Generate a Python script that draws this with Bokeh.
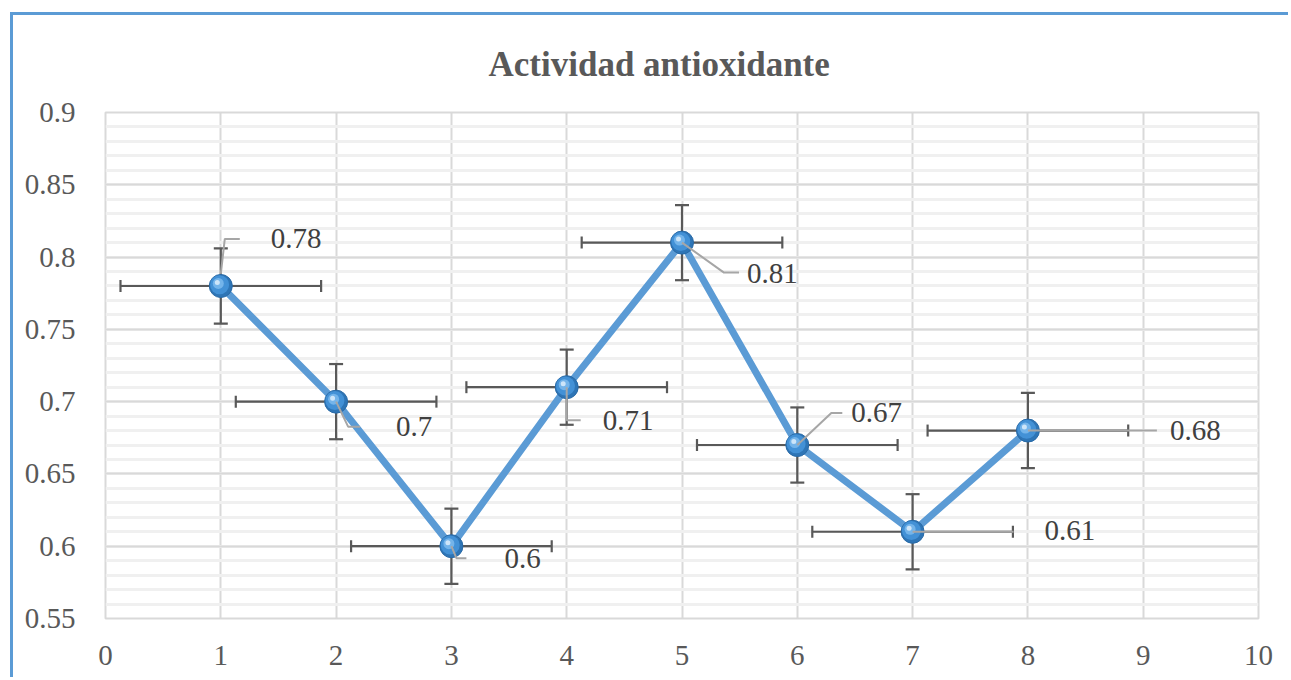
from bokeh.plotting import figure
from bokeh.models import FixedTicker
from bokeh.core.properties import value
from bokeh.embed import file_html
from bokeh.resources import INLINE
import numpy as np

# ---- data ----
x_vals = [1, 2, 3, 4, 5, 6, 7, 8]
y_vals = [0.78, 0.70, 0.60, 0.71, 0.81, 0.67, 0.61, 0.68]
y_err = [0.026, 0.026, 0.026, 0.026, 0.026, 0.026, 0.026, 0.026]
x_err = [0.87, 0.87, 0.87, 0.87, 0.87, 0.87, 0.87, 0.87]
point_labels = ["0.78", "0.7", "0.6", "0.71", "0.81", "0.67", "0.61", "0.68"]
x_ticks = [0, 1, 2, 3, 4, 5, 6, 7, 8, 9, 10]
y_ticks = [0.55, 0.6, 0.65, 0.7, 0.75, 0.8, 0.85, 0.9]
y_tick_labels = ["0.55", "0.6", "0.65", "0.7", "0.75", "0.8", "0.85", "0.9"]
title_text = "Actividad antioxidante"

# label placement (screen px, relative to point; dy positive = down)
lab_dx = [50, 60, 53, 36, 65, 54, 132, 142]
lab_dy = [-47, 25, 12, 33, 31, -33, -1, 0]
# leader elbow (screen px) and leader end (screen px)
elb_dx = [4, 12, 5, 0, 42, 34, 101, 129]
elb_dy = [-47, 25, 12, 33, 30, -32, 0, 0]
end_dx = [19, 24, 15, 14, 57, 45, 101, 129]
start_dy = [-12, 0, 0, 0, 0, 0, 0, 0]

# ---- layout (window coordinates) ----
FL, FR, FT, FB = 105, 1258, 112, 618
W, H = 1291, 680
BX, BY, BW = 10, 12, 3          # outer blue border position / width
OX, OY = BX + BW, BY + BW       # canvas origin in window
X0, X1, Y0, Y1 = 0, 10, 0.55, 0.9
sx = (FR - FL) / (X1 - X0)
sy = (FB - FT) / (Y1 - Y0)

p = figure(width=W - OX, height=H - OY, x_range=(X0, X1), y_range=(Y0, Y1),
           output_backend="svg", toolbar_location=None,
           min_border_left=FL - OX, min_border_right=W - FR,
           min_border_top=FT - OY, min_border_bottom=H - FB)
p.margin = (BY, 0, 0, BX)
p.styles = {"border-top": f"{BW}px solid #5b9bd5",
            "border-left": f"{BW}px solid #5b9bd5"}
p.background_fill_color = "white"
p.border_fill_color = "white"
p.outline_line_color = "#d9d9d9"
p.outline_line_width = 2

p.title.text = title_text
p.title.align = "left"
p.title.vertical_align = "top"
p.title.text_font = "Liberation Serif"
p.title.text_font_style = "bold"
p.title.text_font_size = "35px"
p.title.text_color = "#595959"
p.title.offset = 383
p.title.standoff = 54

p.xaxis.ticker = FixedTicker(ticks=x_ticks)
minor_y = [round(v, 2) for v in np.arange(0.55, 0.9001, 0.01)]
p.yaxis.ticker = FixedTicker(ticks=y_ticks, minor_ticks=minor_y)
p.yaxis.major_label_overrides = {t: l for t, l in zip(y_ticks, y_tick_labels)}

for ax in (p.xaxis[0], p.yaxis[0]):
    ax.axis_line_color = None
    ax.major_tick_line_color = None
    ax.minor_tick_line_color = None
    ax.major_label_text_font = "Liberation Serif"
    ax.major_label_text_font_size = "29px"
    ax.major_label_text_color = "#595959"
p.xaxis.major_label_standoff = 21
p.yaxis.major_label_standoff = 24

p.xgrid.grid_line_color = "#d9d9d9"
p.xgrid.grid_line_width = 2
p.ygrid.grid_line_color = "#d9d9d9"
p.ygrid.grid_line_width = 2
p.ygrid.minor_grid_line_color = "#f0f0f0"
p.ygrid.minor_grid_line_width = 3

xs = np.array(x_vals, dtype=float)
ys = np.array(y_vals, dtype=float)
ye = np.array(y_err)
xe = np.array(x_err)

# error bars
eb = "#595959"
p.segment(xs, ys - ye, xs, ys + ye, line_color=eb, line_width=2.2)
p.segment(xs - xe, ys, xs + xe, ys, line_color=eb, line_width=2.2)
cw = 7 / sx
ch = 6 / sy
p.segment(xs - cw, ys + ye, xs + cw, ys + ye, line_color=eb, line_width=2.2)
p.segment(xs - cw, ys - ye, xs + cw, ys - ye, line_color=eb, line_width=2.2)
p.segment(xs - xe, ys - ch, xs - xe, ys + ch, line_color=eb, line_width=2.2)
p.segment(xs + xe, ys - ch, xs + xe, ys + ch, line_color=eb, line_width=2.2)

# main line
p.line(xs, ys, line_color="#5b9bd5", line_width=7, line_join="round")

# sphere-like markers
p.scatter(xs, ys, size=23, fill_color="#2e75b6", line_color="#2a6aa6", line_width=1)
p.scatter(xs - 1.2 / sx, ys + 1.2 / sy, size=19, fill_color="#4391d6", line_color=None)
p.scatter(xs - 2.5 / sx, ys + 2.5 / sy, size=11, fill_color="#74b4ea", line_color=None)
p.scatter(xs - 3.5 / sx, ys + 3.5 / sy, size=5, fill_color="#cde5f9", line_color=None)

# leader lines
for i in range(len(xs)):
    px = [xs[i], xs[i] + elb_dx[i] / sx, xs[i] + end_dx[i] / sx]
    py = [ys[i] - start_dy[i] / sy, ys[i] - elb_dy[i] / sy, ys[i] - elb_dy[i] / sy]
    p.line(px, py, line_color="#a6a6a6", line_width=2)

# data labels
lx = xs + np.array(lab_dx) / sx
ly = ys - np.array(lab_dy) / sy
p.text(lx, ly, text=point_labels, text_font=value("Liberation Serif"),
       text_font_size="29px", text_color="#404040",
       text_align="left", text_baseline="middle")

open("out.html", "w").write(file_html(p, INLINE))
